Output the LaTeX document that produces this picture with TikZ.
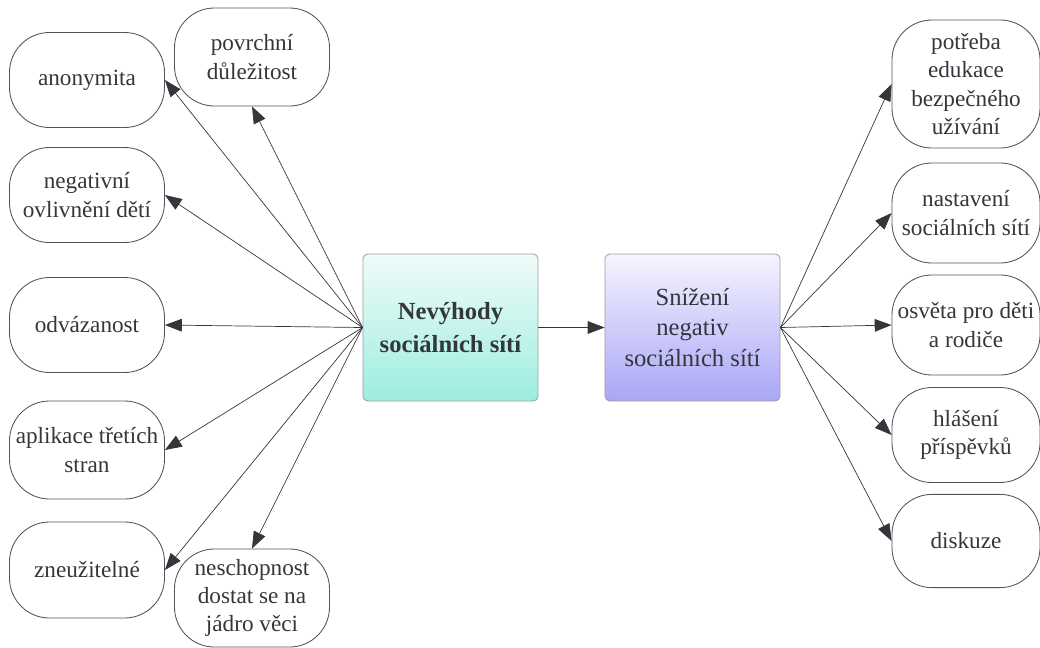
\documentclass[tikz,border=0pt]{standalone}
\usepackage{fontspec}
\setmainfont{Liberation Serif}
\usetikzlibrary{arrows.meta}

\definecolor{inkgray}{HTML}{33363B}
\definecolor{edgegray}{HTML}{4F545A}
\definecolor{tealtop}{HTML}{F0FCFA}
\definecolor{tealbot}{HTML}{9DEDDF}
\definecolor{violettop}{HTML}{F6F4FF}
\definecolor{violetbot}{HTML}{A9A6F6}

\begin{document}
\begin{tikzpicture}[x=0.025cm,y=-0.025cm,
    leaf/.style={draw=edgegray, line width=0.6pt, rounded corners=1.0cm,
      minimum width=3.875cm, minimum height=2.375cm, inner sep=1pt,
      align=center, text=inkgray, font=\fontsize{16.5}{20}\selectfont},
    hub/.style={draw=gray!75, line width=0.6pt, rounded corners=0.12cm,
      minimum width=4.375cm, minimum height=3.675cm,
      align=center, text=inkgray, font=\fontsize{17.5}{21.5}\selectfont},
    link/.style={draw=inkgray, line width=0.5pt,
      -{Triangle[length=12pt,width=9pt]}}]
  \useasboundingbox (0,0) rectangle (1040,647);
  % central boxes
  \node[hub, top color=tealtop, bottom color=tealbot,
    font=\fontsize{17.5}{23}\selectfont\bfseries] (nevyhody) at (450.5,327.5)
    {Nevýhody\\sociálních sítí};
  \node[hub, top color=violettop, bottom color=violetbot] (snizeni) at (692.5,327.5)
    {Snížení\\negativ\\sociálních sítí};
  \draw[link] (nevyhody.east) -- (snizeni.west);
  % disadvantages
  \node[leaf] (anonymita) at (87,80) {anonymita};
  \node[leaf, minimum height=2.45cm] (povrchni) at (252,57) {povrchní\\důležitost};
  \node[leaf] (negativni) at (87,195) {negativní\\ovlivnění dětí};
  \node[leaf] (odvazanost) at (87,325) {odvázanost};
  \node[leaf, minimum height=2.45cm] (aplikace) at (87,450) {aplikace třetích\\stran};
  \node[leaf, minimum height=2.4cm] (zneuzitelne) at (87,570) {zneužitelné};
  \node[leaf, minimum height=2.45cm] (neschopnost) at (252,598)
    {neschopnost\\dostat se na\\jádro věci};
  \foreach \t in {anonymita,negativni,odvazanost,aplikace,zneuzitelne}
    \draw[link] (nevyhody.west) -- (\t.east);
  \draw[link] (nevyhody.west) -- (povrchni.south);
  \draw[link] (nevyhody.west) -- (neschopnost.north);
  % reducing the negatives
  \node[leaf, minimum width=3.7cm, minimum height=3.2cm] (potreba) at (966,84)
    {potřeba\\edukace\\bezpečného\\užívání};
  \node[leaf, minimum width=3.7cm, minimum height=2.5cm] (nastaveni) at (966,213)
    {nastavení\\sociálních sítí};
  \node[leaf, minimum width=3.7cm, minimum height=2.5cm] (osveta) at (966,325)
    {osvěta pro děti\\a rodiče};
  \node[leaf, minimum width=3.7cm] (hlaseni) at (966,435) {hlášení\\příspěvků};
  \node[leaf, minimum width=3.7cm, minimum height=2.33cm] (diskuze) at (966,541) {diskuze};
  \foreach \t in {potreba,nastaveni,osveta,hlaseni,diskuze}
    \draw[link] (snizeni.east) -- (\t.west);
\end{tikzpicture}
\end{document}
